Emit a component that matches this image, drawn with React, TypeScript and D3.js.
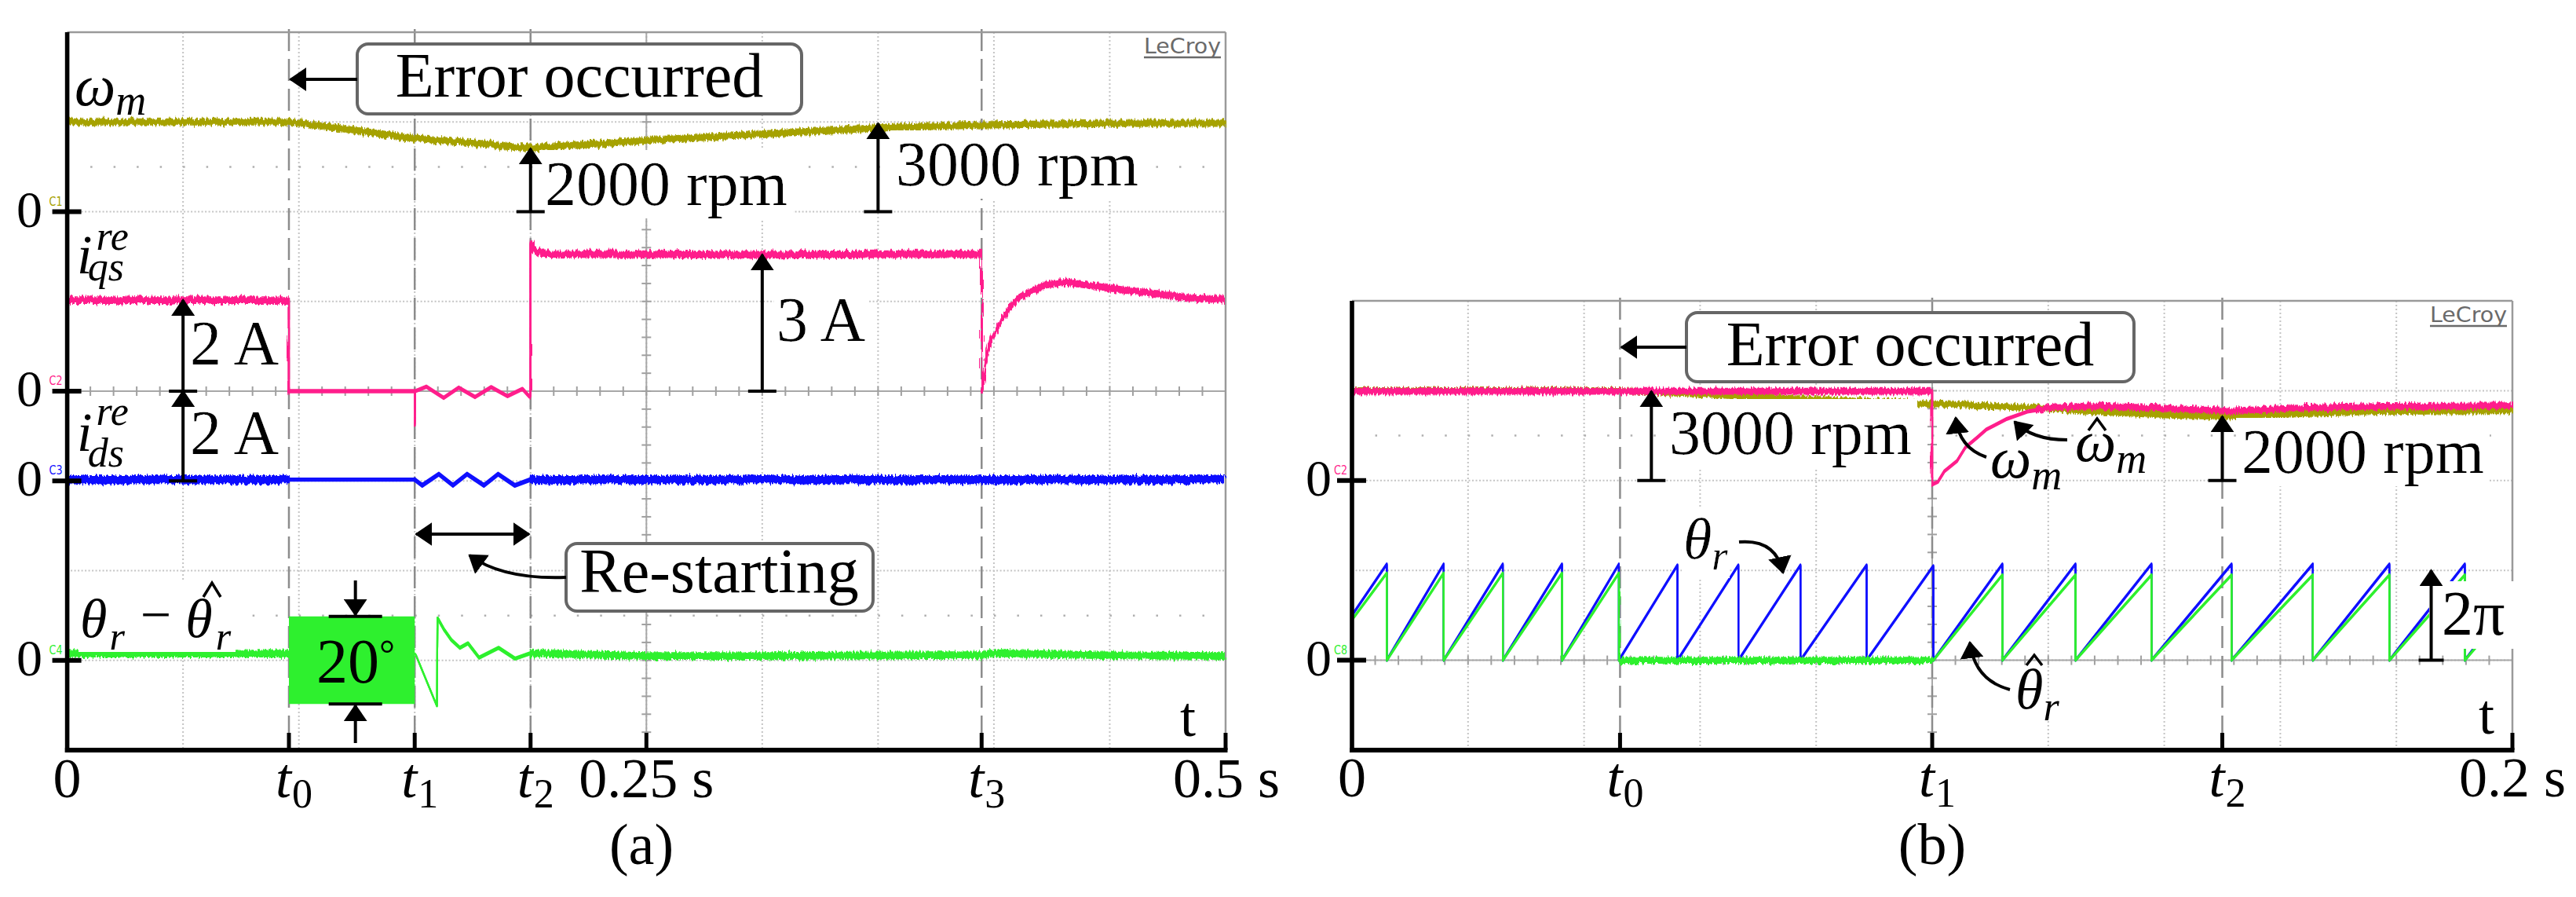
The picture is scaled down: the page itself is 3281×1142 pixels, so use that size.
import React from "react";
import * as d3 from "d3";

// ---------------- panel (a) : 0 .. 0.5 s ----------------
const aT0 = 0.0957, aT1 = 0.15, aT2 = 0.2, aT3 = 0.3947;

// omega_m (rpm)
const aSpeedT = [0, 0.0957, 0.12, 0.15, 0.175, 0.2, 0.225, 0.25, 0.3, 0.35, 0.3947, 0.45, 0.5];
const aSpeedRpm = [3000, 3000, 2760, 2450, 2300, 2110, 2250, 2385, 2600, 2800, 2900, 2950, 2955];

// i_qs (A)
const aIqsT = [0, 0.0957, 0.0957, 0.15, 0.15, 0.1502, 0.155, 0.1625, 0.169, 0.176, 0.183, 0.19, 0.1965, 0.1995,
  0.2, 0.2, 0.2015, 0.206, 0.25, 0.3, 0.35, 0.3947, 0.3947, 0.3954, 0.3964, 0.3986, 0.4008, 0.405, 0.4093,
  0.4159, 0.4224, 0.4309, 0.4438, 0.4569, 0.4742, 0.4828, 0.5];
const aIqsA = [2.03, 2.03, 0, 0, -0.75, 0, 0.1, -0.15, 0.08, -0.13, 0.09, -0.11, 0.05, -0.12,
  -0.1, 3.3, 3.12, 3.06, 3.05, 3.04, 3.05, 3.05, 0.03, 0.15, 0.6, 1.16, 1.34, 1.72, 2.03,
  2.22, 2.37, 2.43, 2.34, 2.25, 2.15, 2.09, 2.04];

// i_ds (A)
const aIdsT = [0, 0.15, 0.1532, 0.1604, 0.1665, 0.1726, 0.1799, 0.186, 0.1932, 0.2, 0.5];
const aIdsA = [0.03, 0.03, -0.1, 0.15, -0.1, 0.15, -0.1, 0.15, -0.1, 0.03, 0.03];

// theta_r - theta_r_hat (deg)
const aErrT = [0, 0.0957, 0.15, 0.1505, 0.1596, 0.1598, 0.1625, 0.1659, 0.1695, 0.173, 0.1778, 0.1862, 0.1933,
  0.2, 0.25, 0.3, 0.3947, 0.4, 0.45, 0.5];
const aErrDeg = [1.5, 1.5, 1.5, 1.2, -10.2, 9.5, 7, 4.5, 2.8, 3.8, 0.6, 2.8, 0.4, 1.6, 1.0, 1.0, 1.2, 1.6, 1.1, 1.0];
// dense oscillation band between t0 and t1
const aBandT = [0.0957, 0.15];
const aBandLo = [-9.7, -9.7];
const aBandHi = [9.8, 9.8];

// ---------------- panel (b) : 0 .. 0.2 s ----------------
const bT0 = 0.0462, bT1 = 0.1, bT2 = 0.15;

const bSpeedT = [0, 0.0462, 0.06, 0.0729, 0.1003, 0.1057, 0.1164, 0.1272, 0.1415, 0.1503, 0.163, 0.1774, 0.2];
const bSpeedRpm = [3000, 3000, 2890, 2760, 2565, 2530, 2440, 2310, 2180, 2140, 2225, 2310, 2330];

const bEstT = [0, 0.1, 0.1, 0.101, 0.1021, 0.1043, 0.1057, 0.1078, 0.1093, 0.1129, 0.1164, 0.12, 0.1272,
  0.138, 0.1487, 0.1503, 0.163, 0.1774, 0.2];
const bEstRpm = [2980, 2980, -130, -40, 310, 660, 1100, 1445, 1700, 2060, 2300, 2420, 2495,
  2425, 2340, 2320, 2420, 2475, 2495];

// sawtooth resets (s) and values just before each reset (x 2pi)
const bResetT = [0.006, 0.0158, 0.026, 0.0362, 0.046, 0.0561, 0.0666, 0.0773, 0.0887, 0.1002,
  0.1121, 0.1247, 0.1378, 0.1516, 0.1656, 0.1788, 0.1918];
const bThetaPeak = [1.07, 1.07, 1.07, 1.07, 1.07, 1.06, 1.06, 1.06, 1.06, 1.05, 1.07, 1.07, 1.07, 1.07, 1.07, 1.07, 1.07];
const bThetaHatPeak = [0.97, 0.97, 0.97, 0.97, 0.97, 0, 0, 0, 0, 0, 0.95, 0.95, 0.95, 0.95, 0.95, 0.95, 0.95];
const bThetaEnds = [0.5, 0.7];
const bThetaHatEnds = [0.45, 0.62];

// ---------------- layout ----------------
const W = 3281, H = 1142;
const FONT = "'Liberation Serif', 'Times New Roman', serif";
const A = { left: 85.6, right: 1561, top: 41, bottom: 955 };
const B = { left: 1722, right: 3200, top: 383, bottom: 955 };
const dA = (A.bottom - A.top) / 8;
const dB = (B.bottom - B.top) / 5;

const xA = d3.scaleLinear().domain([0, 0.5]).range([A.left, A.right]);
const xB = d3.scaleLinear().domain([0, 0.2]).range([B.left, B.right]);
const yA1 = d3.scaleLinear().domain([0, 3000]).range([A.top + 2 * dA, A.top + dA]);
const yA2 = d3.scaleLinear().domain([0, 2]).range([A.top + 4 * dA, A.top + 3 * dA]);
const yA3 = d3.scaleLinear().domain([0, 2]).range([A.top + 5 * dA, A.top + 4 * dA]);
const yA4 = d3.scaleLinear().domain([0, 20]).range([A.top + 7 * dA, A.top + 6 * dA]);
const yB2 = d3.scaleLinear().domain([0, 3000]).range([B.top + 2 * dB, B.top + dB]);
const yB8 = d3.scaleLinear().domain([0, 1]).range([B.top + 4 * dB, B.top + 3 * dB]);

const OLIVE = "#a6a200", PINK = "#ff1f8c", BLUE = "#1010ff", GREEN = "#2ef02e";

function saw(ends: number[], peaks: number[]) {
  const t = [0], v = [ends[0]];
  bResetT.forEach((r, i) => { t.push(r, r); v.push(peaks[i], 0); });
  t.push(0.2); v.push(ends[1]);
  return { t, v };
}

function Trace({ id, t, v, x, y, color, wins, sw = 2.2 }: any) {
  const d = d3.line<number>().x((_, i) => x(t[i])).y((vi) => y(vi))(v) || "";
  return (
    <g>
      {wins.map((wn: any, k: number) => {
        const [a, b, h, noisy] = wn;
        const n = Math.max(1, Math.ceil(h));
        const offs = d3.range(-n, n + 1).map((j) => (j * h) / n);
        const cid = `${id}-${k}`;
        return (
          <g key={k}>
            <clipPath id={cid}>
              <rect x={x(a) - 1} y={0} width={x(b) - x(a) + 2} height={H} />
            </clipPath>
            <g clipPath={`url(#${cid})`}>
              <g filter={noisy ? "url(#nz)" : undefined}>
                {offs.map((o, j) => (
                  <path key={j} d={d} transform={`translate(0,${o})`} fill="none" stroke={color}
                    strokeWidth={sw} strokeLinejoin="round" />
                ))}
              </g>
            </g>
          </g>
        );
      })}
    </g>
  );
}

// vertical measuring arrow with a base bar
function Meas({ x, y0, y1, bar = 36 }: any) {
  return (
    <g stroke="#000" strokeWidth={4}>
      <line x1={x - bar / 2} x2={x + bar / 2} y1={y0} y2={y0} />
      <line x1={x} x2={x} y1={y0} y2={y1} markerEnd="url(#ah)" />
    </g>
  );
}

function Lbl({ x, y, children, size = 80, anchor = "start", bg = true }: any) {
  return (
    <text x={x} y={y} fontSize={size} textAnchor={anchor} fontFamily={FONT}
      filter={bg ? "url(#wbg)" : undefined}>
      {children}
    </text>
  );
}

function Grid({ P, x, tmax, nx, ny, dy, center, sparse, markers }: any) {
  const cols = d3.range(1, nx).map((k) => x((tmax * k) / nx));
  const rows = d3.range(1, ny).map((j) => P.top + j * dy);
  const cx = x(tmax / 2);
  const cy = P.top + center * dy;
  const colStep = (P.right - P.left) / nx / 5;
  const rowStep = dy / 5;
  return (
    <g>
      {cols.map((c, i) => (
        <line key={"c" + i} x1={c} x2={c} y1={P.top} y2={P.bottom} stroke="#c4c4c4" strokeWidth={2}
          strokeDasharray="2 3" />
      ))}
      {rows.map((r, i) => (
        <line key={"r" + i} x1={P.left} x2={P.right} y1={r} y2={r} stroke="#c4c4c4" strokeWidth={2}
          strokeDasharray="2 2.5" />
      ))}
      {sparse.map((s: number, i: number) => (
        <line key={"s" + i} x1={P.left + colStep} x2={P.right} y1={P.top + s * dy} y2={P.top + s * dy}
          stroke="#b0b0b0" strokeWidth={2.5} strokeDasharray={`2.5 ${colStep - 2.5}`} />
      ))}
      <line x1={P.left} x2={P.right} y1={cy} y2={cy} stroke="#a8a8a8" strokeWidth={2} />
      <line x1={cx} x2={cx} y1={P.top} y2={P.bottom} stroke="#a8a8a8" strokeWidth={2} />
      {d3.range(1, nx * 5).map((k) => (
        <line key={"hx" + k} x1={P.left + k * colStep} x2={P.left + k * colStep} y1={cy - 6} y2={cy + 6}
          stroke="#a0a0a0" strokeWidth={2} />
      ))}
      {d3.range(1, Math.round((P.bottom - P.top) / rowStep)).map((k) => (
        <line key={"vy" + k} x1={cx - 6} x2={cx + 6} y1={P.top + k * rowStep} y2={P.top + k * rowStep}
          stroke="#a0a0a0" strokeWidth={2} />
      ))}
      {markers.map((m: number, i: number) => (
        <line key={"m" + i} x1={x(m)} x2={x(m)} y1={P.top - 4} y2={P.bottom} stroke="#8c8c8c" strokeWidth={2.5}
          strokeDasharray="28 10" />
      ))}
      <line x1={P.left} x2={P.right} y1={P.top} y2={P.top} stroke="#9a9a9a" strokeWidth={2.5} />
      <line x1={P.right} x2={P.right} y1={P.top} y2={P.bottom} stroke="#9a9a9a" strokeWidth={2.5} />
    </g>
  );
}

function Axes({ P, x, ticks, zeros, tags, zx }: any) {
  return (
    <g>
      <line x1={P.left} x2={P.left} y1={P.top} y2={P.bottom + 3} stroke="#000" strokeWidth={5.6} />
      <line x1={P.left - 2.8} x2={P.right + 2.5} y1={P.bottom} y2={P.bottom} stroke="#000" strokeWidth={6} />
      {ticks.map((t: number, i: number) => (
        <line key={i} x1={x(t)} x2={x(t)} y1={P.bottom - 22} y2={P.bottom} stroke="#000" strokeWidth={5} />
      ))}
      {zeros.map((z: number, i: number) => (
        <g key={"z" + i}>
          <line x1={P.left - 19} x2={P.left + 18} y1={z} y2={z} stroke="#000" strokeWidth={6} />
          <text x={zx} y={z + 19} fontSize={66} fontFamily={FONT}>0</text>
          <text x={P.left - 23} y={z - 8} fontSize={15} fontFamily="'DejaVu Sans', sans-serif"
            fill={tags[i][1]} textLength={17} lengthAdjust="spacingAndGlyphs">{tags[i][0]}</text>
        </g>
      ))}
    </g>
  );
}

// italic t with upright subscript
function TSub({ x, y, s }: any) {
  return (
    <text x={x - 17} y={y} fontSize={72} fontFamily={FONT} fontStyle="italic">
      t<tspan dx={1} dy={13} fontSize={52} fontStyle="normal">{s}</tspan>
    </text>
  );
}

// italic symbol with subscript (single text element)
function Sym({ x, y, s, sub, size = 74, subSize = 54, dx = 0, dy = 14, bg = false }: any) {
  return (
    <text x={x} y={y} fontSize={size} fontFamily={FONT} fontStyle="italic" filter={bg ? "url(#wbg)" : undefined}>
      {s}<tspan dx={dx} dy={dy} fontSize={subSize}>{sub}</tspan>
    </text>
  );
}

function Hat({ cx, y, w = 22, h = 16 }: any) {
  return <path d={`M${cx - w / 2},${y + h} L${cx},${y} L${cx + w / 2},${y + h}`} fill="none" stroke="#000" strokeWidth={3.5} />;
}

function LeCroy({ x, y }: any) {
  return (
    <g>
      <text x={x} y={y} fontSize={27} fontFamily="'Liberation Sans Narrow', 'DejaVu Sans Condensed', sans-serif"
        fill="#6a6a6a" textLength={98} lengthAdjust="spacingAndGlyphs">LeCroy</text>
      <line x1={x} x2={x + 98} y1={y + 5} y2={y + 5} stroke="#6a6a6a" strokeWidth={2.5} />
    </g>
  );
}

export default function App() {
  const bTheta = saw(bThetaEnds, bThetaPeak);
  const bThetaHat = saw(bThetaHatEnds, bThetaHatPeak);
  const band = d3.area<number>().x((_, i) => xA(aBandT[i])).y0((_, i) => yA4(aBandLo[i])).y1((_, i) => yA4(aBandHi[i]));

  return (
    <svg width={W} height={H} viewBox={`0 0 ${W} ${H}`}
      style={{ position: "absolute", left: 0, top: 0, display: "block", background: "#fff" }}>
      <defs>
        <marker id="ah" viewBox="0 0 22 30" refX={20} refY={15} markerWidth={22} markerHeight={30}
          markerUnits="userSpaceOnUse" orient="auto-start-reverse">
          <path d="M0,0 L22,15 L0,30 z" fill="#000" />
        </marker>
        <filter id="wbg" x="-0.02" y="0.02" width="1.04" height="0.98">
          <feFlood floodColor="#fff" />
          <feComposite in="SourceGraphic" operator="over" />
        </filter>
        <filter id="nz" filterUnits="userSpaceOnUse" x={0} y={0} width={W} height={H}>
          <feTurbulence type="fractalNoise" baseFrequency="0.45 0.03" numOctaves={2} seed={4} result="n" />
          <feDisplacementMap in="SourceGraphic" in2="n" scale={9} xChannelSelector="R" yChannelSelector="G" />
        </filter>
      </defs>

      {/* ================= panel (a) ================= */}
      <Grid P={A} x={xA} tmax={0.5} nx={10} ny={8} dy={dA} center={4} sparse={[1.5, 6.5]}
        markers={[aT0, aT1, aT2, aT3]} />
      <LeCroy x={1457} y={68} />

      <Trace id="a1" t={aSpeedT} v={aSpeedRpm} x={xA} y={yA1} color={OLIVE} wins={[[0, 0.5, 3.5, true]]} />
      <Trace id="a2" t={aIqsT} v={aIqsA} x={xA} y={yA2} color={PINK}
        wins={[[0, aT0, 3.8, true], [aT0, aT2, 1.6, false], [aT2, aT3, 3.8, true], [aT3, 0.5, 3.5, true]]} />
      <Trace id="a3" t={aIdsT} v={aIdsA} x={xA} y={yA3} color={BLUE}
        wins={[[0, aT0, 4.5, true], [aT0, aT1, 1.5, false], [aT1, aT2, 2, false], [aT2, 0.5, 4.5, true]]} />
      <Trace id="a4" t={aErrT} v={aErrDeg} x={xA} y={yA4} color={GREEN}
        wins={[[0, aT0, 3.8, true], [aT1, 0.1605, 0.4, false], [0.1605, aT2, 1.5, false], [aT2, 0.5, 3.8, true]]} />
      <path d={band(aBandT) || ""} fill={GREEN} />

      {/* annotations (a) */}
      <rect x={455} y={56} width={566} height={89} rx={14} fill="#fff" stroke="#666" strokeWidth={4} />
      <Lbl x={738} y={123} anchor="middle" bg={false}>Error occurred</Lbl>
      <line x1={455} x2={xA(aT0) + 2} y1={101} y2={101} stroke="#000" strokeWidth={4} markerEnd="url(#ah)" />

      <Lbl x={694} y={261}>2000 rpm</Lbl>
      <Meas x={xA(aT2)} y0={yA1(0)} y1={yA1(2110)} />
      <Lbl x={1141} y={236}>3000 rpm</Lbl>
      <Meas x={xA(0.35)} y0={yA1(0)} y1={yA1(2950)} />

      <Lbl x={242} y={464}>2 A</Lbl>
      <Meas x={xA(0.05)} y0={yA2(0)} y1={yA2(2.03)} />
      <Lbl x={989} y={434}>3 A</Lbl>
      <Meas x={xA(0.3)} y0={yA2(0)} y1={yA2(3.04)} />
      <Lbl x={242} y={578}>2 A</Lbl>
      <Meas x={xA(0.05)} y0={yA3(0)} y1={yA3(2)} />

      {/* 20 deg */}
      <g stroke="#000" strokeWidth={4}>
        <line x1={xA(0.1244) - 34} x2={xA(0.1244) + 34} y1={yA4(9.8)} y2={yA4(9.8)} />
        <line x1={xA(0.1244) - 34} x2={xA(0.1244) + 34} y1={yA4(-9.7)} y2={yA4(-9.7)} />
        <line x1={xA(0.1244)} x2={xA(0.1244)} y1={739} y2={yA4(9.8) - 2} markerEnd="url(#ah)" />
        <line x1={xA(0.1244)} x2={xA(0.1244)} y1={946} y2={yA4(-9.7) + 2} markerEnd="url(#ah)" />
      </g>
      <text x={403} y={869} fontSize={80} fontFamily={FONT}>20<tspan fontSize={50} dy={-20}>°</tspan></text>

      <rect x={721} y={692} width={391} height={86} rx={14} fill="#fff" stroke="#666" strokeWidth={4} />
      <Lbl x={916} y={754} anchor="middle" bg={false}>Re-starting</Lbl>
      <line x1={xA(aT1) + 2} x2={xA(aT2) - 2} y1={680} y2={680} stroke="#000" strokeWidth={4}
        markerStart="url(#ah)" markerEnd="url(#ah)" />
      <path d="M721,735 Q640,738 598,707" fill="none" stroke="#000" strokeWidth={4} markerEnd="url(#ah)" />

      {/* channel labels (a) */}
      <Sym x={95} y={134} s="ω" sub="m" dy={12} />
      <text x={98} y={348} fontSize={70} fontFamily={FONT} fontStyle="italic">
        i<tspan dx={5} dy={-30} fontSize={52}>re</tspan><tspan dx={-52} dy={39} fontSize={52}>qs</tspan>
      </text>
      <text x={98} y={574} fontSize={70} fontFamily={FONT} fontStyle="italic">
        i<tspan dx={5} dy={-33} fontSize={52}>re</tspan><tspan dx={-52} dy={53} fontSize={52}>ds</tspan>
      </text>
      <rect x={100} y={738} width={200} height={92} fill="#fff" />
      <text x={102} y={811} fontSize={70} fontFamily={FONT} fontStyle="italic">
        θ<tspan dx={3} dy={16} fontSize={50}>r</tspan>
        <tspan dx={20} dy={-21} fontStyle="normal">−</tspan>
        <tspan dx={18} dy={5}>θ</tspan>
        <tspan dx={4} dy={16} fontSize={50}>r</tspan>
      </text>
      <Hat cx={270} y={742} w={22} h={18} />

      <Axes P={A} x={xA} ticks={[aT0, aT1, aT2, 0.25, aT3, 0.5]}
        zeros={[yA1(0), yA2(0), yA3(0), yA4(0)]} zx={21}
        tags={[["C1", OLIVE], ["C2", PINK], ["C3", BLUE], ["C4", GREEN]]} />
      <g fontFamily={FONT}>
        <text x={xA(0)} y={1015} fontSize={72} textAnchor="middle">0</text>
        <text x={xA(0.25)} y={1015} fontSize={72} textAnchor="middle">0.25 s</text>
        <text x={xA(0.5) - 67} y={1015} fontSize={72}>0.5 s</text>
        <text x={1503} y={937} fontSize={72}>t</text>
        <text x={817} y={1100} fontSize={74} textAnchor="middle">(a)</text>
      </g>
      <TSub x={xA(aT0)} y={1015} s="0" />
      <TSub x={xA(aT1)} y={1015} s="1" />
      <TSub x={xA(aT2)} y={1015} s="2" />
      <TSub x={xA(aT3)} y={1015} s="3" />

      {/* ================= panel (b) ================= */}
      <Grid P={B} x={xB} tmax={0.2} nx={10} ny={5} dy={dB} center={4} sparse={[1.5]}
        markers={[bT0, bT1, bT2]} />
      <LeCroy x={3095} y={410} />

      <Trace id="b1" t={bSpeedT} v={bSpeedRpm} x={xB} y={yB2} color={OLIVE} wins={[[0, 0.2, 3.2, true]]} />
      <Trace id="b2" t={bEstT} v={bEstRpm} x={xB} y={yB2} color={PINK}
        wins={[[0, bT1, 3.2, true], [bT1, 0.118, 1.4, false], [0.118, 0.2, 3.2, true]]} />
      <Trace id="b3" t={bTheta.t} v={bTheta.v} x={xB} y={yB8} color={BLUE} wins={[[0, 0.2, 1, false]]} />
      <Trace id="b4" t={bThetaHat.t} v={bThetaHat.v} x={xB} y={yB8} color={GREEN}
        wins={[[0, bT0, 1, false], [bT0, bT1, 3.2, true], [bT1, 0.2, 1, false]]} />

      {/* annotations (b) */}
      <rect x={2148} y={398} width={570} height={88} rx={14} fill="#fff" stroke="#666" strokeWidth={4} />
      <Lbl x={2433} y={465} anchor="middle" bg={false}>Error occurred</Lbl>
      <line x1={2148} x2={xB(bT0) + 2} y1={442} y2={442} stroke="#000" strokeWidth={4} markerEnd="url(#ah)" />

      <Lbl x={2126} y={578}>3000 rpm</Lbl>
      <Meas x={xB(0.0516)} y0={yB2(0)} y1={yB2(2980)} />
      <Lbl x={2855} y={602}>2000 rpm</Lbl>
      <Meas x={xB(bT2)} y0={yB2(0)} y1={yB2(2140)} />

      <Sym x={2535} y={608} s="ω" sub="m" dy={15} />
      <Sym x={2643} y={587} s="ω" sub="m" dy={15} />
      <Sym x={2144} y={711} s="θ" sub="r" subSize={52} dy={14} bg />
      <Sym x={2567} y={902} s="θ" sub="r" size={72} subSize={52} dy={15} />
      <Hat cx={2671} y={533} w={22} h={15} />
      <Hat cx={2591} y={834} w={20} h={13} />
      <g fill="none" stroke="#000" strokeWidth={4}>
        <path d="M2530,582 Q2495,570 2491,532" markerEnd="url(#ah)" />
        <path d="M2633,560 Q2588,560 2566,537" markerEnd="url(#ah)" />
        <path d="M2215,690 Q2262,686 2271,729" markerEnd="url(#ah)" />
        <path d="M2560,878 Q2515,866 2509,818" markerEnd="url(#ah)" />
      </g>

      <rect x={3094} y={740} width={112} height={86} fill="#fff" />
      <Meas x={xB(0.186)} y0={yB8(0)} y1={yB8(1)} bar={32} />
      <text x={3110} y={808} fontSize={80} fontFamily={FONT}>2π</text>

      <Axes P={B} x={xB} ticks={[bT0, bT1, bT2, 0.2]} zeros={[yB2(0), yB8(0)]} zx={1663}
        tags={[["C2", PINK], ["C8", GREEN]]} />
      <g fontFamily={FONT}>
        <text x={xB(0)} y={1014} fontSize={72} textAnchor="middle">0</text>
        <text x={xB(0.2) - 68} y={1014} fontSize={72}>0.2 s</text>
        <text x={3157} y={934} fontSize={72}>t</text>
        <text x={2461} y={1100} fontSize={74} textAnchor="middle">(b)</text>
      </g>
      <TSub x={xB(bT0)} y={1014} s="0" />
      <TSub x={xB(bT1)} y={1014} s="1" />
      <TSub x={xB(bT2)} y={1014} s="2" />
    </svg>
  );
}
